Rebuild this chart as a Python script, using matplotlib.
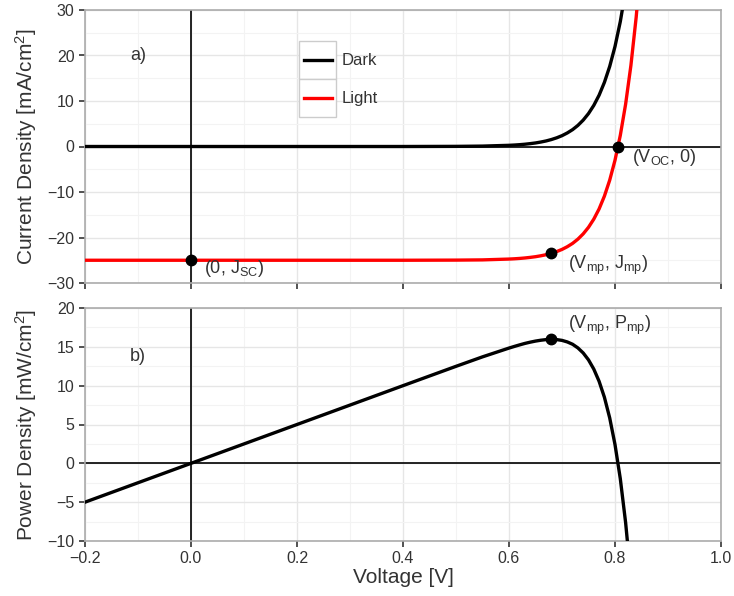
import matplotlib
matplotlib.use('Agg')
import matplotlib.pyplot as plt
from matplotlib.patches import Rectangle
from matplotlib.lines import Line2D
from matplotlib.ticker import MultipleLocator

plt.rcParams['font.family'] = ['Liberation Sans', 'DejaVu Sans']
plt.rcParams['mathtext.fontset'] = 'custom'
plt.rcParams['mathtext.rm'] = 'Liberation Sans'
plt.rcParams['mathtext.it'] = 'Liberation Sans'

# J-V data (voltage in V, current density in mA/cm^2)
voltage = [-0.20, 0.00, 0.20, 0.40, 0.50, 0.55, 0.60, 0.61, 0.62, 0.63, 0.64,
           0.65, 0.66, 0.67, 0.68, 0.69, 0.70, 0.71, 0.72, 0.73, 0.74, 0.75,
           0.76, 0.77, 0.78, 0.79, 0.80, 0.81, 0.82, 0.83, 0.84, 0.85]
j_dark = [0.00, 0.00, 0.00, 0.00, 0.03, 0.09, 0.26, 0.32, 0.40, 0.50, 0.63,
          0.78, 0.98, 1.22, 1.53, 1.91, 2.38, 2.98, 3.71, 4.64, 5.80, 7.24,
          9.04, 11.28, 14.09, 17.60, 21.98, 27.45, 34.28, 42.81, 53.46, 66.77]
j_light = [-25.00, -25.00, -25.00, -25.00, -24.97, -24.92, -24.74, -24.68,
           -24.60, -24.50, -24.37, -24.22, -24.02, -23.78, -23.47, -23.09,
           -22.62, -22.02, -21.29, -20.36, -19.20, -17.76, -15.96, -13.72,
           -10.91, -7.40, -3.02, 2.45, 9.28, 17.81, 28.46, 41.77]

# power density (mW/cm^2)
p_voltage = [-0.20, -0.10, 0.00, 0.10, 0.20, 0.30, 0.40, 0.50, 0.55, 0.60,
             0.61, 0.62, 0.63, 0.64, 0.65, 0.66, 0.67, 0.68, 0.69, 0.70, 0.71,
             0.72, 0.73, 0.74, 0.75, 0.76, 0.77, 0.78, 0.79, 0.80, 0.81, 0.82,
             0.83]
power = [-5.00, -2.50, 0.00, 2.50, 5.00, 7.50, 10.00, 12.49, 13.71, 14.84,
         15.05, 15.25, 15.44, 15.60, 15.74, 15.85, 15.93, 15.96, 15.93, 15.83,
         15.63, 15.33, 14.86, 14.21, 13.32, 12.13, 10.56, 8.51, 5.85, 2.42,
         -1.98, -7.61, -14.78]

# key operating points
v_oc = 0.806
j_sc = -25.0
v_mp = 0.68
j_mp = -23.47
p_mp = 15.96

GRID_MAJOR = '#e6e6e6'
GRID_MINOR = '#f3f3f3'
BORDER = '#ababab'
TEXT = '#333333'


def style_axes(ax, ylim, ymajor, show_xlabels):
    ax.set_xlim(-0.2, 1.0)
    ax.set_ylim(*ylim)
    ax.xaxis.set_major_locator(MultipleLocator(0.2))
    ax.xaxis.set_minor_locator(MultipleLocator(0.1))
    ax.yaxis.set_major_locator(MultipleLocator(ymajor))
    ax.yaxis.set_minor_locator(MultipleLocator(ymajor / 2))
    ax.grid(True, which='major', color=GRID_MAJOR, linewidth=1.0)
    ax.grid(True, which='minor', color=GRID_MINOR, linewidth=0.8)
    ax.set_axisbelow(True)
    for spine in ax.spines.values():
        spine.set_color(BORDER)
        spine.set_linewidth(1.2)
    ax.tick_params(which='major', direction='out', length=4, width=1.2,
                   color='#333333', labelsize=11.5, labelcolor=TEXT)
    ax.tick_params(which='minor', length=0)
    ax.tick_params(axis='x', labelbottom=show_xlabels)
    ax.axhline(0, color='black', linewidth=1.2, zorder=1.5)
    ax.axvline(0, color='black', linewidth=1.2, zorder=1.5)


fig = plt.figure(figsize=(7.34, 5.96), dpi=100)
ax1 = fig.add_axes([85 / 734, 1 - 283 / 596, 636 / 734, 273 / 596])
ax2 = fig.add_axes([85 / 734, 1 - 541 / 596, 636 / 734, 233 / 596])

# a) current density
style_axes(ax1, (-30, 30), 10, False)
ax1.plot(voltage, j_dark, color='black', linewidth=2.4, zorder=3)
ax1.plot(voltage, j_light, color='#ff0000', linewidth=2.4, zorder=3)
ax1.plot([0, v_oc, v_mp], [j_sc, 0, j_mp], 'o', color='black',
         markersize=7.5, zorder=4)
ax1.set_ylabel('Current Density [mA/cm$^2$]', fontsize=15, color=TEXT,
               labelpad=6)
ax1.text(-0.1, 20, 'a)', fontsize=13, color=TEXT, ha='center', va='center')

ann = dict(textcoords='offset points', fontsize=13, color=TEXT,
           ha='left', va='center')
ax1.annotate('(0, J$_{SC}$)', (0, j_sc), xytext=(9, -6), **ann)
ax1.annotate('(V$_{OC}$, 0)', (v_oc, 0), xytext=(10, -8), **ann)
ax1.annotate('(V$_{mp}$, J$_{mp}$)', (v_mp, j_mp), xytext=(12, -9), **ann)

# legend drawn as boxed keys
for top, color, label in [(0.886, 'black', 'Dark'), (0.747, '#ff0000', 'Light')]:
    ax1.add_patch(Rectangle((0.337, top - 0.139), 0.057, 0.139,
                            transform=ax1.transAxes, facecolor='white',
                            edgecolor='#cccccc', linewidth=1.0, zorder=5))
    ax1.add_line(Line2D([0.344, 0.389], [top - 0.0695] * 2,
                        transform=ax1.transAxes, color=color,
                        linewidth=2.4, zorder=6))
    ax1.text(0.403, top - 0.0695, label, transform=ax1.transAxes,
             fontsize=12, color=TEXT, ha='left', va='center')

# b) power density
style_axes(ax2, (-10, 20), 5, True)
ax2.plot(p_voltage, power, color='black', linewidth=2.4, zorder=3)
ax2.plot([v_mp], [p_mp], 'o', color='black', markersize=7.5, zorder=4)
ax2.set_ylabel('Power Density [mW/cm$^2$]', fontsize=15, color=TEXT,
               labelpad=6)
ax2.set_xlabel('Voltage [V]', fontsize=15, color=TEXT, labelpad=1)
ax2.text(-0.1, 13.7, 'b)', fontsize=13, color=TEXT, ha='center', va='center')
ax2.annotate('(V$_{mp}$, P$_{mp}$)', (v_mp, p_mp), xytext=(12, 10), **ann)

fig.savefig('out.png', dpi=100)
